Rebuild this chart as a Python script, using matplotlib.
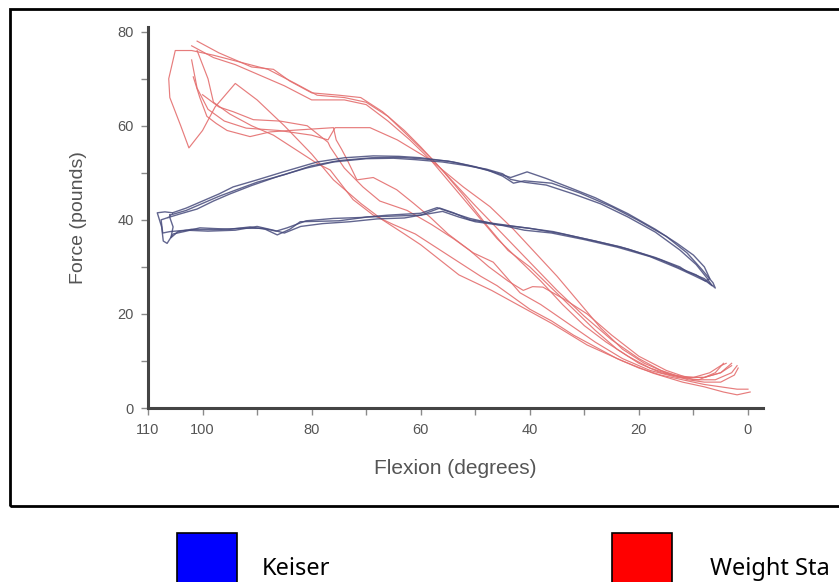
import matplotlib.pyplot as plt
from matplotlib.patches import Rectangle

# flexion (degrees), force (pounds)
weight_stack_1 = [(101, 78), (97, 75.5), (91, 72.5), (87, 72), (84, 69.5), (80, 67),
                  (75, 66.5), (71, 66), (67, 63), (63, 59), (60, 55.5), (56, 50.5),
                  (52, 45), (48, 39), (44, 33.5), (40, 30), (36, 25.5), (32, 21),
                  (28, 16.5), (24, 12.5), (20, 9.5), (16, 7.5), (12, 6.5), (8, 6.5),
                  (5, 7.5), (3, 9.5)]
weight_stack_2 = [(102, 77), (98, 74.5), (94, 73), (89, 70.5), (85, 68.5), (80, 65.5),
                  (74, 65.5), (70, 64.5), (66, 61), (62, 57), (58, 52.5), (54, 47),
                  (50, 41.5), (46, 36), (42, 31.5), (38, 27), (34, 22), (30, 17.5),
                  (26, 14), (22, 11), (18, 8.5), (14, 7), (10, 6.5), (7, 7.5),
                  (5, 9), (4, 9.5)]
weight_stack_3 = [(3, 9), (5, 7.5), (8, 6.5), (12, 6.5), (16, 8), (20, 10.5), (25, 14.5),
                  (30, 19.5), (35, 25), (40, 31), (45, 37), (50, 43), (54, 48),
                  (58, 53), (62, 57.5), (66, 62), (70, 65), (74, 66), (79, 66.5),
                  (83, 69), (88, 72), (93, 73.5), (98, 75), (102, 76), (105, 76),
                  (106.2, 70), (106, 66), (104, 60), (102.5, 55.3), (100, 59),
                  (97.7, 64), (94, 69), (90, 65.5), (85, 60), (80, 54), (76, 48.5),
                  (71, 43.5), (67, 40), (63, 37), (60, 34.7), (56.5, 31.5), (53, 28.3),
                  (47, 25), (41.5, 21.5), (36, 18), (29.5, 13.4), (23, 10), (17.4, 7.4),
                  (12, 5.5), (8, 4.5), (4.5, 3.4), (2, 2.8), (-0.4, 3.4)]
weight_stack_4 = [(101.7, 70.4), (100.5, 66), (99.2, 62), (97.5, 60.5), (95.5, 59),
                  (91.3, 57.7), (87.6, 58.7), (84, 59), (80, 59.3), (76, 59.6),
                  (75.5, 57), (74.5, 55), (73.5, 52.8), (71.7, 48.5), (68.7, 49),
                  (64.4, 46.4), (61.4, 43.6), (58.3, 40.6), (55, 37), (51, 33.5),
                  (47.5, 30), (44, 27), (41.2, 25), (39.5, 25.8), (37.6, 25.7),
                  (33.5, 23), (29.5, 20), (25, 15.5), (20, 11), (15, 8), (10, 6),
                  (6, 6), (3, 7.5), (2, 9)]
weight_stack_5 = [(100, 66.6), (97, 64), (94.4, 63), (90.7, 61.3), (85.8, 61),
                  (80.8, 60), (77, 56.5), (76.6, 55.5), (74, 51), (70.6, 47),
                  (67.5, 44), (62.5, 42), (58, 39), (54, 36), (50.4, 33), (46.7, 31),
                  (41.8, 24.5), (38, 22), (33, 18), (28, 14), (23, 10.5), (18, 8),
                  (13, 6.5), (9, 6), (6, 7.5), (4.5, 9.5)]
weight_stack_6 = [(102, 74), (101, 68), (99, 63.5), (96, 61), (92, 59.5), (86, 59),
                  (80, 58), (77, 57), (75.7, 59.6), (73, 59.6), (69.3, 59.6),
                  (64.3, 57), (58.3, 52.8), (52.2, 47), (47.3, 42.8), (43, 38),
                  (39, 33), (35, 28), (31, 22.5), (27, 17), (23, 12.5), (19, 9.5),
                  (15, 7.5), (11, 6), (8, 5.5), (5, 5.5), (2.5, 7), (1.8, 8.5)]
weight_stack_7 = [(101, 76), (99, 70), (98, 65), (95, 62.5), (91, 60), (87, 58),
                  (83, 55), (79, 52), (76.6, 50.6), (72.4, 44.3), (68.7, 41),
                  (65, 39), (61, 37), (57, 34), (53, 31), (49, 28), (46, 26),
                  (43, 23.5), (40, 21), (36, 18.5), (32, 15.5), (28, 13), (24, 10.5),
                  (20, 8.5), (16, 7), (12, 6), (8, 5), (5, 4.5), (2, 4), (0, 4)]

keiser_1 = [(105.5, 41.5), (103, 42.5), (100, 44), (97, 45.5), (94.4, 47), (90, 48.5),
            (85.2, 50.2), (79, 52.3), (74, 53.2), (68.7, 53.6), (64, 53.5), (60, 53.2),
            (54, 52.3), (50, 51.3), (47.8, 50.6), (45, 49.3), (43, 47.8), (41, 48.3),
            (36, 47.8), (30.8, 45.7), (25, 42.8), (20.3, 40), (15, 36.5), (11.2, 33),
            (8.5, 29.5), (6.4, 26.6), (6, 25.5), (8, 27.5), (11.2, 29), (12.5, 30),
            (17, 32), (23.5, 34.3), (30, 36), (35.7, 37.5), (42, 38.5), (47, 39.3),
            (51, 40), (54, 41.5), (56.5, 42.5), (60, 41), (65, 40.8), (69.8, 40.6),
            (75, 39.8), (82.1, 39.6), (84, 38), (86.3, 36.8), (88.5, 38), (91.3, 38.5),
            (95, 38), (100.5, 38.3), (103, 37.6), (105.4, 37), (106.5, 35),
            (107.2, 35.5), (107.5, 38.5), (108.3, 41.5), (106.9, 41.7), (105.5, 41.5)]
keiser_2 = [(106, 41), (103, 42), (100, 43.5), (97, 45), (94, 46.3), (90, 48),
            (85, 49.6), (80, 51.5), (75, 52.6), (69, 53.2), (64, 53.3), (60, 53),
            (55, 52.5), (51, 51.5), (47, 50.3), (43.5, 49), (40.5, 50.2), (37, 48.8),
            (33, 47), (28, 44.7), (22, 41.3), (17, 38), (13, 35), (10, 32.5),
            (8, 30), (7, 27.5), (7.8, 27), (9.5, 28.3), (12, 29.5), (16, 31.5),
            (22, 33.8), (28, 35.5), (34, 37), (40, 38.2), (46, 39), (51, 40.3),
            (55, 41.8), (57, 42.6), (60, 41.4), (66, 41), (71, 40.5), (76, 40.3),
            (81, 39.8), (84.5, 38.3), (86.5, 37.6), (89, 38.2), (93, 38.2),
            (98, 37.9), (102, 38), (104.5, 37.5), (105.8, 36.2), (105.4, 38.5),
            (106, 40.5), (106, 41)]
keiser_3 = [(106.3, 40.5), (104, 41.3), (101, 42.3), (98, 44), (95, 45.5), (91, 47.3),
            (86, 49.3), (81, 51), (76, 52.3), (70, 53), (65, 53.1), (61, 52.8),
            (56, 52.3), (52, 51.6), (48, 50.8), (45, 49.8), (43.5, 48.6), (41, 48),
            (37, 47.4), (32, 45.5), (27, 43.4), (22, 40.6), (17, 37.4), (12.5, 33.6),
            (9.5, 30.5), (7.5, 27.6), (6.6, 26), (7.5, 26.8), (10, 28.2), (13, 29.8),
            (18, 32.2), (24, 34.2), (30, 35.8), (36, 37.2), (41, 37.8), (45, 38.8),
            (50, 39.6), (53, 40.6), (56, 41.8), (59, 41.2), (63, 40.4), (68, 40.2),
            (73, 39.6), (78, 39.2), (82, 38.6), (85, 37.2), (87, 37.8), (90, 38.6),
            (94, 37.8), (99, 37.6), (103, 37.8), (106, 37.5), (107.3, 37.2),
            (107.6, 40), (106.3, 40.5)]

weight_traces = [weight_stack_1, weight_stack_2, weight_stack_3, weight_stack_4,
                 weight_stack_5, weight_stack_6, weight_stack_7]
keiser_traces = [keiser_1, keiser_2, keiser_3]

x_ticks = list(range(0, 111, 10))
x_labels = ['0', '', '20', '', '40', '', '60', '', '80', '', '100', '110']
y_ticks = list(range(0, 81, 10))
y_labels = ['0', '', '20', '', '40', '', '60', '', '80']

legend_names = ['Keiser', 'Weight Sta']
legend_colors = ['#0000ff', '#ff0000']

W, H = 839, 582
fig = plt.figure(figsize=(W / 100, H / 100), dpi=100)
ax = fig.add_axes([148 / W, (H - 408) / H, 615 / W, 381 / H])

for tr in weight_traces:
    xs, ys = zip(*tr)
    ax.plot(xs, ys, color='#e46e6e', lw=0.85, alpha=0.9)
for tr in keiser_traces:
    xs, ys = zip(*tr)
    ax.plot(xs, ys, color='#474b7c', lw=1.0, alpha=0.85)

ax.set_xlim(110, -2.75)
ax.set_ylim(0, 81)
ax.set_xticks(x_ticks)
ax.set_xticklabels(x_labels)
ax.set_yticks(y_ticks)
ax.set_yticklabels(y_labels)
ax.tick_params(colors='#8a8a8a', labelcolor='#555555', labelsize=10.5,
               length=5, width=1)
ax.tick_params(axis='y', pad=5)
ax.tick_params(axis='x', pad=6)
for s in ['top', 'right']:
    ax.spines[s].set_visible(False)
for s in ['left', 'bottom']:
    ax.spines[s].set_color('#444444')
    ax.spines[s].set_linewidth(2.2)
for lab in ax.get_xticklabels() + ax.get_yticklabels():
    lab.set_family('Liberation Sans')
ax.set_xlabel('Flexion (degrees)', fontsize=15, color='#555555',
              family='Liberation Sans', labelpad=16)
ax.set_ylabel('Force (pounds)', fontsize=14, color='#555555',
              family='Liberation Sans', labelpad=22)

# outer frame around the chart picture
fig.patches.append(Rectangle((10 / W, (H - 506) / H), 850 / W, 497 / H,
                             transform=fig.transFigure, fill=False,
                             edgecolor='black', lw=2))

# legend squares below the frame
sq_x = [177, 612]
txt_x = [262, 710]
for x0, col, name, tx in zip(sq_x, legend_colors, legend_names, txt_x):
    fig.patches.append(Rectangle((x0 / W, -10 / H), 60 / W, (H - 533 + 10) / H,
                                 transform=fig.transFigure, facecolor=col,
                                 edgecolor='black', lw=1.2))
    fig.text(tx / W, (H - 575) / H, name, fontsize=17, family='Noto Sans',
             color='black', va='baseline')

fig.savefig('out.png', dpi=100)
